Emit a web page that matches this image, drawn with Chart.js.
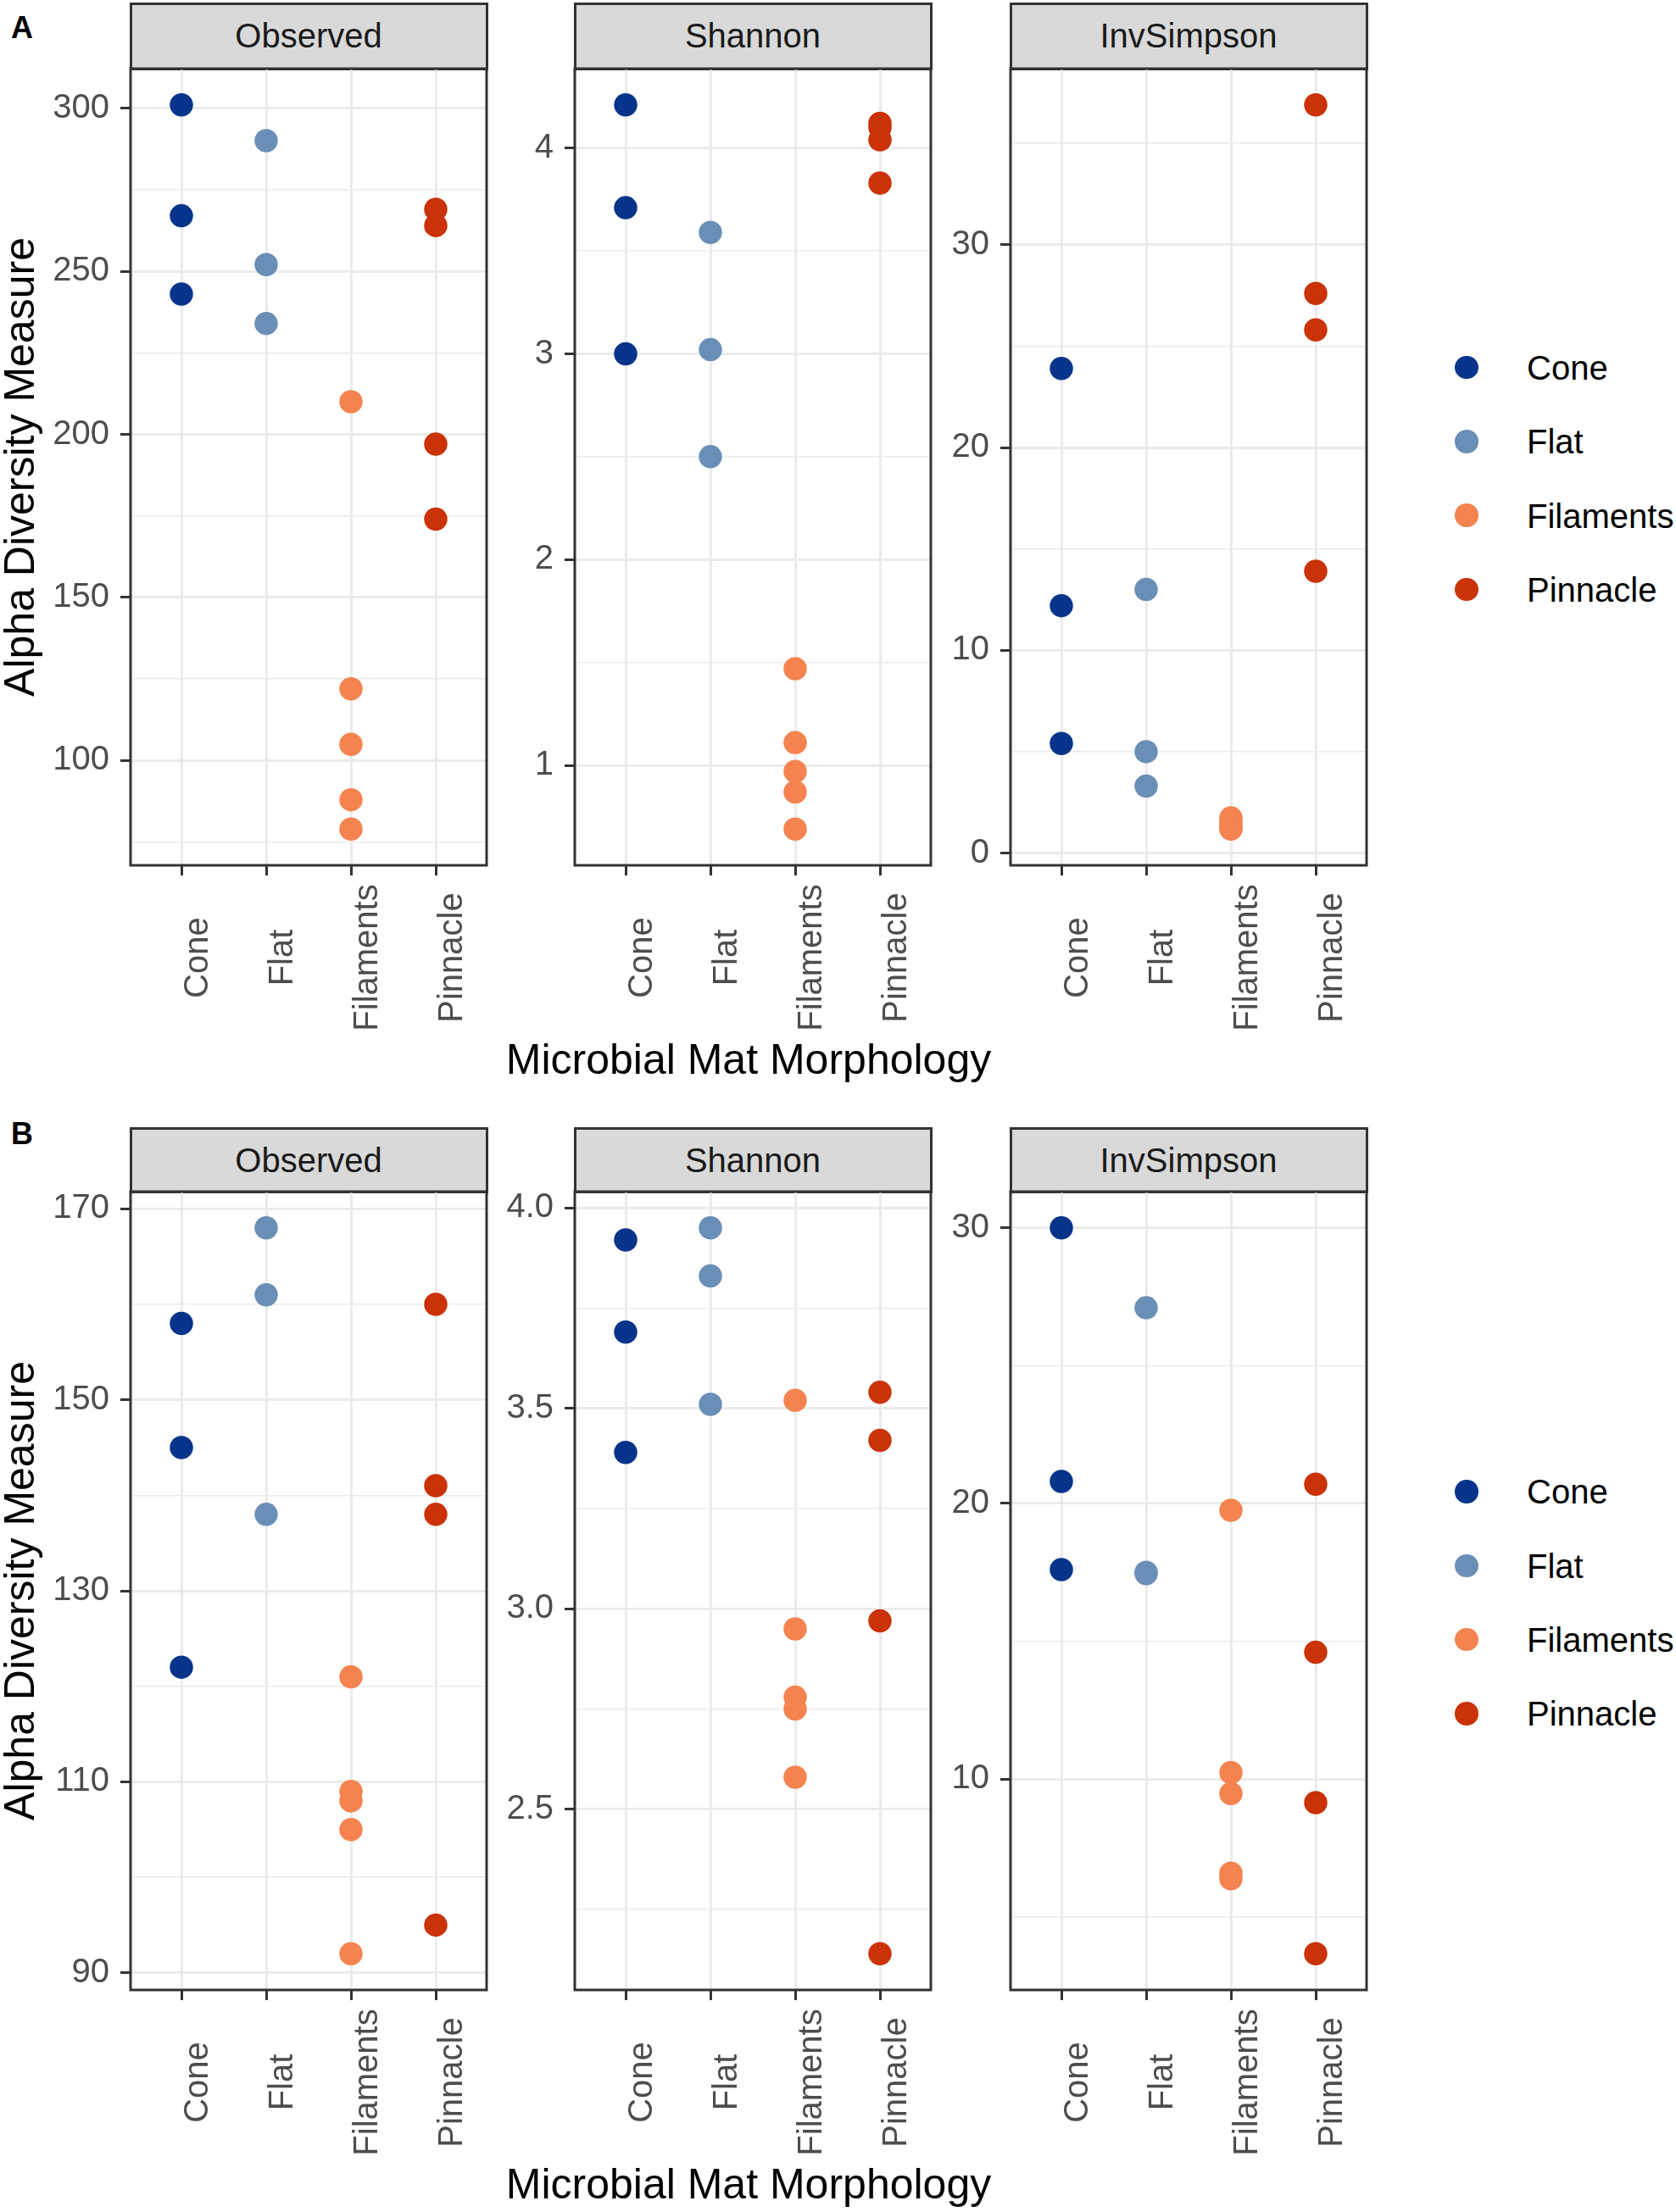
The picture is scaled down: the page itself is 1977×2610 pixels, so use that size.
<!DOCTYPE html>
<html>
<head>
<meta charset="utf-8">
<script src="https://cdn.jsdelivr.net/npm/chart.js@4.4.1/dist/chart.umd.min.js"></script>
<style>
  html, body { margin: 0; padding: 0; background: #ffffff; }
  body { width: 1977px; height: 2610px; position: relative; overflow: hidden;
         font-family: "Liberation Sans", Arial, Helvetica, sans-serif; }
  .abs { position: absolute; }
  .strip { position: absolute; box-sizing: border-box; background: #D9D9D9; border: 3px solid #333333;
           color: #1A1A1A; font-size: 40px; line-height: 40px; text-align: center; white-space: nowrap; }
  .ytitle { position: absolute; width: 800px; height: 60px; line-height: 60px; font-size: 50px; color: #000;
            text-align: center; transform: rotate(-90deg); white-space: nowrap; }
  .xtitle { position: absolute; width: 900px; height: 60px; line-height: 60px; font-size: 50px; color: #000;
            text-align: center; white-space: nowrap; }
  .letter { position: absolute; font-size: 36px; line-height: 40px; font-weight: bold; color: #000; }
  .ldot { position: absolute; border-radius: 50%; }
  .ltext { position: absolute; font-size: 40px; line-height: 40px; color: #000; white-space: nowrap; }
</style>
</head>
<body>
<script>
// ---------------- DATA ----------------
const categories = ['Cone', 'Flat', 'Filaments', 'Pinnacle'];
const seriesColors = ['#05348A', '#6A8FB6', '#F4834F', '#CA3208'];
const metricNames = ['Observed', 'Shannon', 'InvSimpson'];
const rowLetters = ['A', 'B'];
const xAxisTitle = 'Microbial Mat Morphology';
const yAxisTitle = 'Alpha Diversity Measure';

// Figure A
const observedA_Cone = [301, 267, 243];
const observedA_Flat = [290, 252, 234];
const observedA_Filaments = [210, 122, 105, 88, 79];
const observedA_Pinnacle = [269, 264, 197, 174];

const shannonA_Cone = [4.21, 3.71, 3.00];
const shannonA_Flat = [3.59, 3.02, 2.50];
const shannonA_Filaments = [1.47, 1.11, 0.97, 0.87, 0.69];
const shannonA_Pinnacle = [4.12, 4.10, 4.04, 3.83];

const invSimpsonA_Cone = [23.9, 12.2, 5.4];
const invSimpsonA_Flat = [13.0, 5.0, 3.3];
const invSimpsonA_Filaments = [1.73, 1.55, 1.40, 1.25, 1.18];
const invSimpsonA_Pinnacle = [36.9, 27.6, 25.8, 13.9];

// Figure B
const observedB_Cone = [158, 145, 122];
const observedB_Flat = [168, 161, 138];
const observedB_Filaments = [121, 109, 108, 105, 92];
const observedB_Pinnacle = [160, 141, 138, 95];

const shannonB_Cone = [3.92, 3.69, 3.39];
const shannonB_Flat = [3.95, 3.83, 3.51];
const shannonB_Filaments = [3.52, 2.95, 2.78, 2.75, 2.58];
const shannonB_Pinnacle = [3.54, 3.42, 2.97, 2.14];

const invSimpsonB_Cone = [30.0, 20.8, 17.6];
const invSimpsonB_Flat = [27.1, 17.5, 17.45];
const invSimpsonB_Filaments = [19.75, 10.23, 9.47, 6.58, 6.38];
const invSimpsonB_Pinnacle = [20.7, 14.6, 9.14, 3.66];

// Tick values (major = labelled, minor = grid only)
const observedA_majorTicks = [100, 150, 200, 250, 300];
const observedA_minorTicks = [75, 125, 175, 225, 275];
const shannonA_majorTicks = [1, 2, 3, 4];
const shannonA_minorTicks = [1.5, 2.5, 3.5];
const invSimpsonA_majorTicks = [0, 10, 20, 30];
const invSimpsonA_minorTicks = [5, 15, 25, 35];

const observedB_majorTicks = [90, 110, 130, 150, 170];
const observedB_minorTicks = [100, 120, 140, 160];
const shannonB_majorTicks = [2.5, 3.0, 3.5, 4.0];
const shannonB_minorTicks = [2.25, 2.75, 3.25, 3.75];
const invSimpsonB_majorTicks = [10, 20, 30];
const invSimpsonB_minorTicks = [5, 15, 25];

// ---------------- LAYOUT ----------------
const colLeft = [154, 678, 1192];
const panelW = 420;
const rowStripTop = [3, 1330];
const rowPlotTop = [81, 1406];
const rowPlotBottom = [1021, 2348];
const yAxisW = 150, xAxisH = 220, padTop = 6, padRight = 10;
const legendDotX = 1730, legendTextX = 1801, legendStep = 87.3;
const legendTop = [433.5, 1760];
const FONT = '"Liberation Sans", Arial, Helvetica, sans-serif';

Chart.defaults.font.family = FONT;

const panels = [
  { row: 0, col: 0, series: [observedA_Cone, observedA_Flat, observedA_Filaments, observedA_Pinnacle],
    major: observedA_majorTicks, minor: observedA_minorTicks, dec: 0 },
  { row: 0, col: 1, series: [shannonA_Cone, shannonA_Flat, shannonA_Filaments, shannonA_Pinnacle],
    major: shannonA_majorTicks, minor: shannonA_minorTicks, dec: 0 },
  { row: 0, col: 2, series: [invSimpsonA_Cone, invSimpsonA_Flat, invSimpsonA_Filaments, invSimpsonA_Pinnacle],
    major: invSimpsonA_majorTicks, minor: invSimpsonA_minorTicks, dec: 0 },
  { row: 1, col: 0, series: [observedB_Cone, observedB_Flat, observedB_Filaments, observedB_Pinnacle],
    major: observedB_majorTicks, minor: observedB_minorTicks, dec: 0 },
  { row: 1, col: 1, series: [shannonB_Cone, shannonB_Flat, shannonB_Filaments, shannonB_Pinnacle],
    major: shannonB_majorTicks, minor: shannonB_minorTicks, dec: 1 },
  { row: 1, col: 2, series: [invSimpsonB_Cone, invSimpsonB_Flat, invSimpsonB_Filaments, invSimpsonB_Pinnacle],
    major: invSimpsonB_majorTicks, minor: invSimpsonB_minorTicks, dec: 0 }
];

const framePlugin = {
  id: 'frame',
  afterDraw(chart) {
    const { ctx, chartArea: a } = chart;
    ctx.save();
    ctx.strokeStyle = '#333333';
    ctx.lineWidth = 3;
    ctx.strokeRect(a.left, a.top, a.right - a.left, a.bottom - a.top);
    ctx.restore();
  }
};

const xLabelPlugin = {
  id: 'xlabels',
  afterDraw(chart) {
    const { ctx, chartArea: a } = chart;
    const xs = chart.scales.x;
    ctx.save();
    ctx.font = '40px ' + FONT;
    ctx.fillStyle = '#4D4D4D';
    ctx.textAlign = 'center';
    ctx.textBaseline = 'alphabetic';
    categories.forEach((c, i) => {
      const px = xs.getPixelForValue(i + 1);
      ctx.save();
      ctx.translate(px + 31, a.bottom + 109);
      ctx.rotate(-Math.PI / 2);
      ctx.fillText(c, 0, 0);
      ctx.restore();
    });
    ctx.restore();
  }
};

function addDiv(cls, left, top, text, extra) {
  const d = document.createElement('div');
  d.className = cls;
  d.style.left = left + 'px';
  d.style.top = top + 'px';
  if (text !== undefined && text !== null) d.textContent = text;
  if (extra) Object.assign(d.style, extra);
  document.body.appendChild(d);
  return d;
}

panels.forEach(p => {
  const plotTop = rowPlotTop[p.row], plotBottom = rowPlotBottom[p.row];
  const plotH = plotBottom - plotTop;
  const left = colLeft[p.col];

  // strip
  addDiv('strip', left - 1.5, rowStripTop[p.row], metricNames[p.col], {
    width: (panelW + 3) + 'px',
    height: (plotTop - rowStripTop[p.row] + 1.5) + 'px',
    paddingTop: '16px'
  });

  // canvas
  const wrap = addDiv('abs', left - yAxisW, plotTop - padTop, null, {
    width: (yAxisW + panelW + padRight) + 'px',
    height: (padTop + plotH + xAxisH) + 'px'
  });
  const cv = document.createElement('canvas');
  cv.width = yAxisW + panelW + padRight;
  cv.height = padTop + plotH + xAxisH;
  cv.style.width = cv.width + 'px';
  cv.style.height = cv.height + 'px';
  wrap.appendChild(cv);

  const all = p.series.flat();
  const dmin = Math.min(...all), dmax = Math.max(...all);
  const ex = (dmax - dmin) * 0.05;
  const ymin = dmin - ex, ymax = dmax + ex;
  const tickVals = p.major.concat(p.minor).filter(v => v >= ymin && v <= ymax).sort((a, b) => a - b);
  const isMajor = v => p.major.includes(v);

  new Chart(cv, {
    type: 'scatter',
    data: {
      datasets: categories.map((c, i) => ({
        label: c,
        data: p.series[i].map(v => ({ x: i + 1, y: v })),
        backgroundColor: seriesColors[i],
        borderWidth: 0,
        pointRadius: 13.75,
        pointHoverRadius: 13.75
      }))
    },
    options: {
      responsive: false,
      animation: false,
      devicePixelRatio: 1,
      events: [],
      layout: { autoPadding: false, padding: { top: padTop, right: padRight, left: 0, bottom: 0 } },
      plugins: { legend: { display: false }, tooltip: { enabled: false } },
      scales: {
        x: {
          type: 'linear', min: 0.4, max: 4.6,
          afterBuildTicks: s => { s.ticks = categories.map((c, i) => ({ value: i + 1 })); },
          afterFit: s => { s.height = xAxisH; s.paddingLeft = 0; s.paddingRight = 0; },
          ticks: { display: false },
          grid: { color: '#EBEBEB', lineWidth: 3, drawTicks: true, tickLength: 12,
                  tickColor: '#333333', tickWidth: 3 },
          border: { display: false }
        },
        y: {
          type: 'linear', min: ymin, max: ymax,
          afterBuildTicks: s => { s.ticks = tickVals.map(v => ({ value: v })); },
          afterFit: s => { s.width = yAxisW; s.paddingTop = 0; s.paddingBottom = 0; },
          ticks: {
            autoSkip: false, padding: 13, color: '#4D4D4D', font: { size: 40, family: FONT },
            callback: v => isMajor(v) ? v.toFixed(p.dec) : ''
          },
          grid: {
            color: '#EBEBEB',
            lineWidth: ctx => (ctx.tick && isMajor(ctx.tick.value)) ? 3 : 1.5,
            drawTicks: true, tickLength: 12,
            tickColor: ctx => (ctx.tick && isMajor(ctx.tick.value)) ? '#333333' : 'rgba(0,0,0,0)',
            tickWidth: 3
          },
          border: { display: false }
        }
      }
    },
    plugins: [framePlugin, xLabelPlugin]
  });
});

// row-level text: letters, axis titles, legends
[0, 1].forEach(r => {
  const plotTop = rowPlotTop[r], plotBottom = rowPlotBottom[r];
  addDiv('letter', 13, (r === 0 ? 46 : 1351) - 33, rowLetters[r]);
  const cy = (plotTop + plotBottom) / 2;
  addDiv('ytitle', 22.5 - 400, cy - 30, yAxisTitle);
  const cx = (colLeft[0] + colLeft[2] + panelW) / 2;
  addDiv('xtitle', cx - 450, plotBottom + 246 - 47.3, xAxisTitle);
  categories.forEach((c, i) => {
    const y = legendTop[r] + i * legendStep;
    addDiv('ldot', legendDotX - 13.75, y - 13.75, null, {
      width: '27.5px', height: '27.5px', background: seriesColors[i]
    });
    addDiv('ltext', legendTextX, y + 14.3 - 33.85, c);
  });
});
</script>
</body>
</html>
